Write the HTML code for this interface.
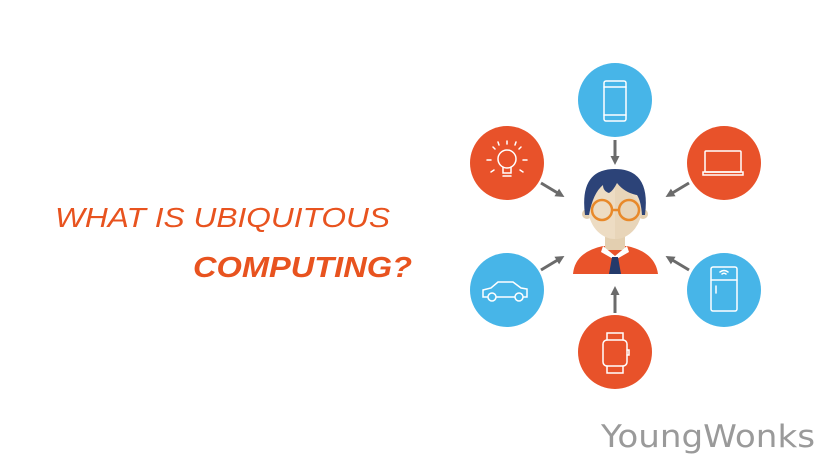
<!DOCTYPE html>
<html><head><meta charset="utf-8"><style>
html,body{margin:0;padding:0;background:#fff;width:840px;height:473px;overflow:hidden}
</style></head><body>
<svg width="840" height="473" viewBox="0 0 840 473" xmlns="http://www.w3.org/2000/svg">
<defs>
<marker id="ah" markerWidth="9" markerHeight="9" refX="5" refY="4.5" orient="auto" markerUnits="userSpaceOnUse"><path d="M0,0 L9,4.5 L0,9 z" fill="#6b6b6b"/></marker>
</defs>
<rect width="840" height="473" fill="#fff"/>
<text x="55" y="227" font-family="Liberation Sans, sans-serif" font-style="italic" font-size="28" fill="#e8531f" textLength="335" lengthAdjust="spacingAndGlyphs">WHAT IS UBIQUITOUS</text>
<text x="193" y="277" font-family="Liberation Sans, sans-serif" font-style="italic" font-weight="bold" font-size="29" fill="#e8531f" textLength="219" lengthAdjust="spacingAndGlyphs">COMPUTING?</text>
<text x="601" y="447" font-family="DejaVu Sans, Liberation Sans, sans-serif" font-size="31" fill="#9a9a9a" textLength="214" lengthAdjust="spacingAndGlyphs">YoungWonks</text>

<g stroke="#6b6b6b" stroke-width="3" marker-end="url(#ah)">
<line x1="615" y1="140" x2="615" y2="161"/>
<line x1="541" y1="183" x2="561" y2="195"/>
<line x1="689" y1="183" x2="669" y2="195"/>
<line x1="541" y1="270" x2="561" y2="258"/>
<line x1="689" y1="270" x2="669" y2="258"/>
<line x1="615" y1="313" x2="615" y2="290"/>
</g>

<circle cx="615" cy="100" r="37" fill="#47b5e8"/>
<circle cx="507" cy="163" r="37" fill="#e8522a"/>
<circle cx="724" cy="163" r="37" fill="#e8522a"/>
<circle cx="507" cy="290" r="37" fill="#47b5e8"/>
<circle cx="724" cy="290" r="37" fill="#47b5e8"/>
<circle cx="615" cy="352" r="37" fill="#e8522a"/>

<g fill="none" stroke="#fff" stroke-width="1.5" stroke-linecap="round">
<rect x="604" y="81" width="22" height="40" rx="2"/>
<line x1="604" y1="87" x2="626" y2="87"/><line x1="604" y1="115" x2="626" y2="115"/>
<circle cx="507" cy="159" r="9"/>
<path d="M503 167 v6 h8 v-6"/><line x1="503" y1="176" x2="511" y2="176"/>
<path d="M507 144 v-3 M495 149 l-2-2 M519 149 l2-2 M491 160 h-4 M523 160 h4 M494 170 l-3 2 M520 170 l3 2 M499 145 l-1-3 M515 145 l1-3"/>
<rect x="705" y="151" width="36" height="21" rx="1"/>
<path d="M703 172 h40 v3 h-40 z"/>
<path d="M483 297 v-7 l8-2 l7-6 h15 l8 6 l6 1 v8 z"/>
<circle cx="492" cy="297" r="4" fill="#47b5e8"/><circle cx="519" cy="297" r="4" fill="#47b5e8"/>
<rect x="711" y="267" width="26" height="44" rx="2"/>
<line x1="711" y1="280" x2="737" y2="280"/><line x1="716" y1="286" x2="716" y2="293"/>
<path d="M720 272 q4-3 8 0 M722 274 q2-1.5 4 0"/>
<rect x="603" y="340" width="24" height="26" rx="4"/>
<path d="M607 340 v-7 h16 v7 M607 366 v7 h16 v-7 M627 350 h2 v5 h-2"/>
</g>

<!-- person -->
<path d="M573 274 q2-22 30-28 h24 q28 6 31 28 z" fill="#e9532a"/>
<rect x="605" y="225" width="20" height="25" fill="#e3cfb0"/>
<path d="M603 246 l12 10 l12-10 l2 6 l-14 8 l-14-8 z" fill="#fff"/>
<path d="M612 257 h6 l3 17 h-12 z" fill="#243a6b"/>
<circle cx="587" cy="214" r="5" fill="#e3cfb0"/>
<circle cx="643" cy="214" r="5" fill="#e3cfb0"/>
<ellipse cx="615" cy="207" rx="27" ry="32" fill="#eddcc3"/>
<path d="M615 175 v64 a27 32 0 0 0 27-32 z" fill="#e5d0b3" opacity="0.6"/>
<path d="M585 215 q-6-46 30-46 q36 0 30 46 l-3 0 q-1-14-5-20 q-12-2-20-12 q-4 8-8 10 q-6 -2-6 -8 q-10 8-14 30 z" fill="#2c4378"/>
<g fill="none" stroke="#e8892a" stroke-width="2.5">
<circle cx="602" cy="210" r="10"/><circle cx="629" cy="210" r="10"/>
<path d="M612 210 h7"/>
</g>
</svg>
</body></html>
